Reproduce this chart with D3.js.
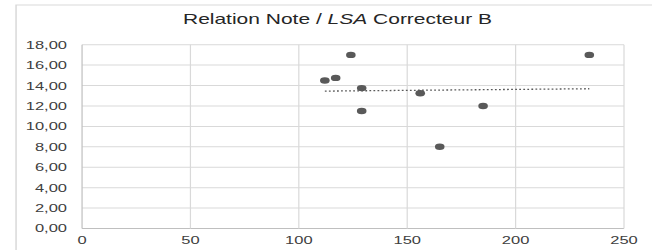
<!DOCTYPE html>
<html lang="fr">
<head>
<meta charset="utf-8">
<title>Relation Note / LSA Correcteur B</title>
<script src="https://d3js.org/d3.v7.min.js"></script>
<style>
  body { margin: 0; background: #fff; }
  text { font-family: "Liberation Sans", Arial, sans-serif; }
</style>
</head>
<body>
<div id="chart"></div>
<script>
// data
var lsa  = [124, 234, 112, 117, 129, 156, 129, 185, 165];
var note = [17, 17, 14.5, 14.75, 13.75, 13.25, 11.5, 12, 8];
var xTicks = [0, 50, 100, 150, 200, 250];
var yTicks = [0, 2, 4, 6, 8, 10, 12, 14, 16, 18];

// the original picture is stretched sideways, so draw in a narrower
// box and let the viewBox widen it
var stretch = 1.5;
var W = 652 / stretch, H = 250;
var margin = {top: 44.7, right: W - 416, bottom: H - 228.5, left: 54.7};

var svg = d3.select("#chart").append("svg")
    .attr("width", 652)
    .attr("height", 250)
    .attr("viewBox", "0 0 " + W + " " + H)
    .attr("preserveAspectRatio", "none");

// outer chart frame (runs off right and bottom)
svg.append("rect")
    .attr("x", 10.7).attr("y", 5)
    .attr("width", W + 10).attr("height", H + 10)
    .attr("fill", "none")
    .attr("stroke", "#d9d9d9")
    .attr("stroke-width", 1);

var x = d3.scaleLinear().domain([0, 250]).range([margin.left, W - margin.right]);
var y = d3.scaleLinear().domain([0, 18]).range([H - margin.bottom, margin.top]);

var fr = d3.formatLocale({decimal: ",", thousands: " ", grouping: [3], currency: ["", "€"]});
var fmt = fr.format(".2f");

// gridlines
svg.append("g").selectAll("line").data(yTicks).enter().append("line")
    .attr("x1", x(0)).attr("x2", x(250))
    .attr("y1", function(d) { return y(d); })
    .attr("y2", function(d) { return y(d); })
    .attr("stroke", function(d) { return d === 0 ? "#bfbfbf" : "#d9d9d9"; })
    .attr("stroke-width", 1);
svg.append("g").selectAll("line").data(xTicks).enter().append("line")
    .attr("x1", function(d) { return x(d); })
    .attr("x2", function(d) { return x(d); })
    .attr("y1", y(0)).attr("y2", y(18))
    .attr("stroke", function(d) { return d === 0 ? "#bfbfbf" : "#d9d9d9"; })
    .attr("stroke-width", 0.8);

// tick labels
svg.append("g").selectAll("text").data(yTicks).enter().append("text")
    .attr("x", x(0) - 10)
    .attr("y", function(d) { return y(d) + 4; })
    .attr("text-anchor", "end")
    .attr("font-size", "11px")
    .attr("fill", "#404040")
    .text(function(d) { return fmt(d); });
svg.append("g").selectAll("text").data(xTicks).enter().append("text")
    .attr("x", function(d) { return x(d); })
    .attr("y", 244.5)
    .attr("text-anchor", "middle")
    .attr("font-size", "11px")
    .attr("fill", "#404040")
    .text(function(d) { return d; });

// linear trend line (least squares over the points)
var mx = d3.mean(lsa), my = d3.mean(note);
var sxy = d3.sum(lsa, function(v, i) { return (v - mx) * (note[i] - my); });
var sxx = d3.sum(lsa, function(v) { return (v - mx) * (v - mx); });
var slope = sxy / sxx, icpt = my - slope * mx;
var ext = d3.extent(lsa);
svg.append("line")
    .attr("x1", x(ext[0])).attr("x2", x(ext[1]))
    .attr("y1", y(icpt + slope * ext[0]))
    .attr("y2", y(icpt + slope * ext[1]))
    .attr("stroke", "#595959")
    .attr("stroke-width", 1.3)
    .attr("stroke-dasharray", "1.2,1.5");

// points
svg.append("g").selectAll("circle").data(lsa).enter().append("circle")
    .attr("cx", function(d) { return x(d); })
    .attr("cy", function(d, i) { return y(note[i]); })
    .attr("r", 3.2)
    .attr("fill", "#595959");

// title
var title = svg.append("text")
    .attr("x", 225)
    .attr("y", 24)
    .attr("text-anchor", "middle")
    .attr("font-size", "14px")
    .attr("fill", "#262626");
title.append("tspan").text("Relation Note / ");
title.append("tspan").attr("font-style", "italic").text("LSA");
title.append("tspan").text(" Correcteur B");
</script>
</body>
</html>
